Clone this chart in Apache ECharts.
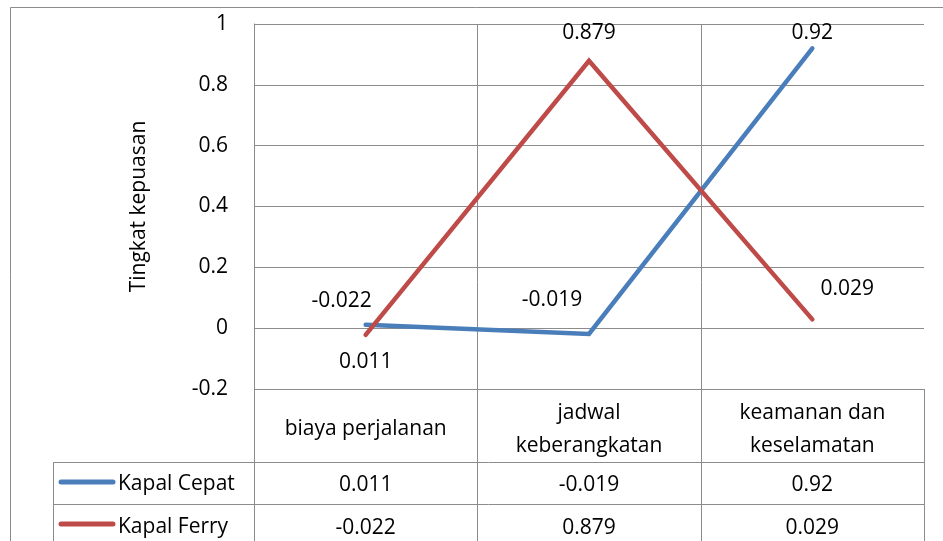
<!DOCTYPE html>
<html><head><meta charset="utf-8">
<script src="https://cdn.jsdelivr.net/npm/echarts@6/dist/echarts.min.js"></script>
<style>html,body{margin:0;padding:0;background:#fff}#c{width:943px;height:541px}</style>
</head><body><div id="c"></div>
<script>
const categories = ['biaya perjalanan', 'jadwal\nkeberangkatan', 'keamanan dan\nkeselamatan'];
const seriesNames = ['Kapal Cepat', 'Kapal Ferry'];
const kapalCepat = [0.011, -0.019, 0.92];
const kapalFerry = [-0.022, 0.879, 0.029];
const yTitle = 'Tingkat kepuasan';

const colors = ['#4A7EBB', '#BE4B48'];
const FONT = 'Open Sans';
const FS = 21;
const GRID = '#8c8c8c';
// label placement per point (style only)
const labelStyles = [
  [{position:'bottom', distance:26, dx:0}, {position:'top', distance:22, dx:-37}, {position:'top', distance:4, dx:0}],
  [{position:'top', distance:22, dx:-24}, {position:'top', distance:16, dx:0}, {position:'top', distance:19, dx:35}]
];
const allSeries = [kapalCepat, kapalFerry];

const chart = echarts.init(document.getElementById('c'), null, {renderer:'canvas'});
const grid = {left:254, right:19, top:24, bottom:152};

chart.setOption({
  backgroundColor:'#fff',
  animation:false,
  grid: grid,
  xAxis: {type:'category', data:categories, boundaryGap:true,
    axisLine:{show:false}, axisTick:{show:false}, axisLabel:{show:false}, splitLine:{show:false}},
  yAxis: {type:'value', min:-0.2, max:1, interval:0.2,
    name: yTitle, nameLocation:'middle', nameGap:104, nameRotate:90,
    nameTextStyle:{fontFamily:FONT, fontSize:FS, color:'#000'},
    axisLine:{show:true, lineStyle:{color:GRID, width:1}}, axisTick:{show:false},
    axisLabel:{fontFamily:FONT, fontSize:FS, color:'#000', margin:26},
    splitLine:{show:true, lineStyle:{color:GRID, width:1}}},
  series: allSeries.map((vals, si) => ({
    type:'line', name:seriesNames[si], symbol:'circle', symbolSize:2, showSymbol:true, showAllSymbol:true,
    lineStyle:{color:colors[si], width:4.5, cap:'round', join:'miter'},
    itemStyle:{color:colors[si], borderWidth:0},
    label:{show:true, fontFamily:FONT, fontSize:FS, color:'#000'},
    labelLayout: function (p) { return {hideOverlap:false, dx: labelStyles[si][p.dataIndex].dx, dy: 0}; },
    data: vals.map((v, i) => ({value:v, label:{show:true, position:labelStyles[si][i].position,
      distance:labelStyles[si][i].distance, fontFamily:FONT, fontSize:FS, color:'#000'}}))
  }))
});

// table beneath
const W = 943, H = 541;
const x0 = grid.left, x1 = W - grid.right;
const yTop = grid.top, yAxisBottom = H - grid.bottom;
const bw = (x1 - x0) / categories.length;
const rowCat = [yAxisBottom, 462];
const rowS = [[462, 504], [504, 546]];
const rowTextY = [485, 528];
const rowLegY = [482, 524];
const tableLeft = 53;
const els = [];
const line = (xa, ya, xb, yb) => els.push({type:'line', shape:{x1:xa, y1:ya, x2:xb, y2:yb}, style:{stroke:GRID, lineWidth:1}, silent:true});
// outer frame
line(10.5, 7.5, W, 7.5);
line(10.5, 7.5, 10.5, H);
for (let i = 1; i < categories.length; i++) { const x = Math.round(x0 + i*bw) + 0.5; line(x, yTop, x, H); }
line(x0 + 0.5, yAxisBottom, x0 + 0.5, H);
line(x1 + 0.5, yAxisBottom, x1 + 0.5, H);
line(tableLeft + 0.5, rowCat[1], tableLeft + 0.5, H);
line(x0, yAxisBottom + 0.5, x1, yAxisBottom + 0.5);
line(tableLeft, rowS[0][0] + 0.5, x1, rowS[0][0] + 0.5);
line(tableLeft, rowS[1][0] + 0.5, x1, rowS[1][0] + 0.5);
categories.forEach((c, i) => {
  const cx = chart.convertToPixel({xAxisIndex:0}, i);
  els.push({type:'text', silent:true, style:{text:c, x:cx, y:(rowCat[0]+rowCat[1])/2 + 4, align:'center', verticalAlign:'middle',
    fontFamily:FONT, fontSize:FS, lineHeight:33, fill:'#000'}});
  allSeries.forEach((vals, si) => {
    els.push({type:'text', silent:true, style:{text:String(vals[i]), x:cx, y:rowTextY[si], align:'center', verticalAlign:'middle',
      fontFamily:FONT, fontSize:FS, fill:'#000'}});
  });
});
seriesNames.forEach((n, si) => {
  els.push({type:'line', silent:true, shape:{x1:61, y1:rowLegY[si], x2:113, y2:rowLegY[si]}, style:{stroke:colors[si], lineWidth:5, lineCap:'round'}});
  els.push({type:'text', silent:true, style:{text:n, x:118, y:rowTextY[si] - 1, align:'left', verticalAlign:'middle', fontFamily:FONT, fontSize:FS, fill:'#000'}});
});
chart.setOption({graphic:{elements:els}});
</script></body></html>
